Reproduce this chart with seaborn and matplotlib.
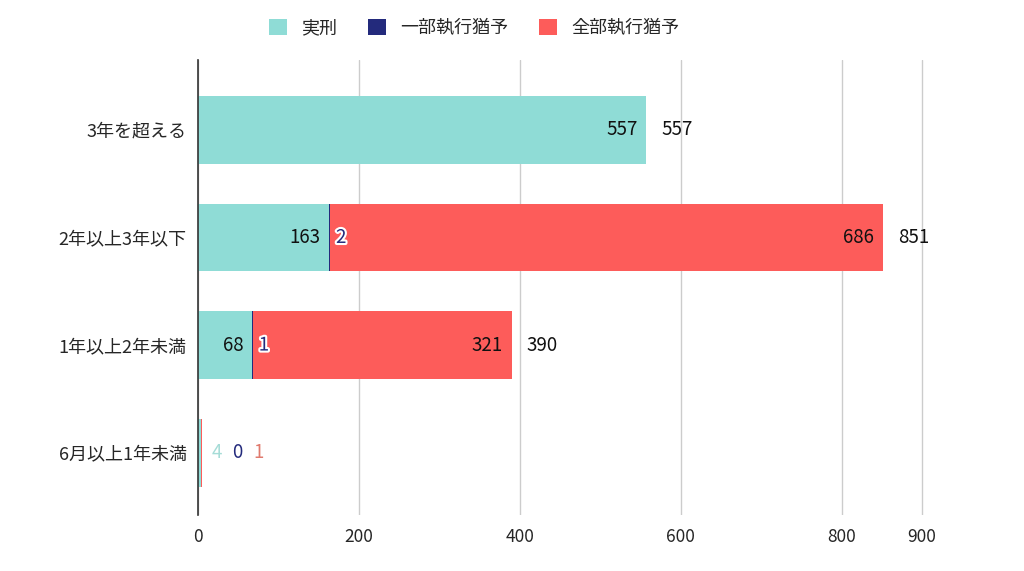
import matplotlib.pyplot as plt
import matplotlib.patheffects as pe
from matplotlib.patches import Patch
import seaborn as sns
import pandas as pd

categories = ["3年を超える", "2年以上3年以下", "1年以上2年未満", "6月以上1年未満"]
jikkei = [557, 163, 68, 4]
ichibu = [0, 2, 1, 0]
zenbu = [0, 686, 321, 1]
series_names = ["実刑", "一部執行猶予", "全部執行猶予"]
xticks = [0, 200, 400, 600, 800, 900]

teal = "#8fdcd6"
navy = "#232a7c"
red = "#fd5c5a"

df = pd.DataFrame({"cat": categories, "jikkei": jikkei,
                   "ichibu": ichibu, "zenbu": zenbu})
df["upto_ichibu"] = df["jikkei"] + df["ichibu"]
df["total"] = df["upto_ichibu"] + df["zenbu"]

sns.set_theme(style="white")
plt.rcParams['font.family'] = ['Noto Sans CJK JP', 'DejaVu Sans']

fig = plt.figure(figsize=(10.24, 5.71), dpi=100)
ax = fig.add_axes([0.193, 0.098, 0.709, 0.797])

# stacked bars drawn as overlapping cumulative bars
for col, c in [("total", red), ("upto_ichibu", navy), ("jikkei", teal)]:
    sns.barplot(data=df, y="cat", x=col, color=c, width=0.63, orient="h",
                ax=ax, saturation=1, linewidth=0, zorder=2)

ax.set_xlim(0, 902)
ax.set_ylim(3.58, -0.65)
ax.set_xticks(xticks)
ax.set_xticklabels([str(t) for t in xticks], fontsize=12.5)
ax.tick_params(axis="y", labelsize=13, length=0, pad=8)
ax.tick_params(axis="x", length=0, pad=9)
ax.set_xlabel("")
ax.set_ylabel("")
ax.xaxis.grid(True, color="#cccccc", linewidth=1, zorder=0)
ax.set_axisbelow(True)
for s in ["top", "right", "bottom"]:
    ax.spines[s].set_visible(False)
ax.spines["left"].set_color("#333333")
ax.spines["left"].set_linewidth(1.2)
ax.spines["left"].set_zorder(3)

fs = 13.5
halo = [pe.withStroke(linewidth=3, foreground="white")]
for i, row in df.iterrows():
    if row["total"] < 20:
        # tiny row: colored labels side by side
        for k, (v, c) in enumerate(zip([row["jikkei"], row["ichibu"], row["zenbu"]],
                                       ["#a6dcd7", navy, "#e07a6e"])):
            ax.annotate(str(v), (row["total"], i), xytext=(7 + k * 15, 0),
                        textcoords="offset points", ha="left", va="center",
                        fontsize=fs, color=c)
        continue
    ax.annotate(str(row["jikkei"]), (row["jikkei"], i), xytext=(-6, 0),
                textcoords="offset points", ha="right", va="center",
                fontsize=fs, color="#111111")
    if row["ichibu"] > 0:
        ax.annotate(str(row["ichibu"]), (row["upto_ichibu"], i), xytext=(4, 0),
                    textcoords="offset points", ha="left", va="center",
                    fontsize=fs, color=navy, path_effects=halo)
    if row["zenbu"] > 0:
        ax.annotate(str(row["zenbu"]), (row["total"], i), xytext=(-6, 0),
                    textcoords="offset points", ha="right", va="center",
                    fontsize=fs, color="#111111")
    ax.annotate(str(row["total"]), (row["total"], i), xytext=(11, 0),
                textcoords="offset points", ha="left", va="center",
                fontsize=fs, color="#111111")

handles = [Patch(facecolor=c, edgecolor="none") for c in [teal, navy, red]]
fig.legend(handles, series_names, loc="center", bbox_to_anchor=(0.463, 0.951),
           ncol=3, frameon=False, fontsize=13, handlelength=1.0,
           handleheight=1.0, columnspacing=1.7, handletextpad=0.8)

fig.savefig("out.png", dpi=100)
